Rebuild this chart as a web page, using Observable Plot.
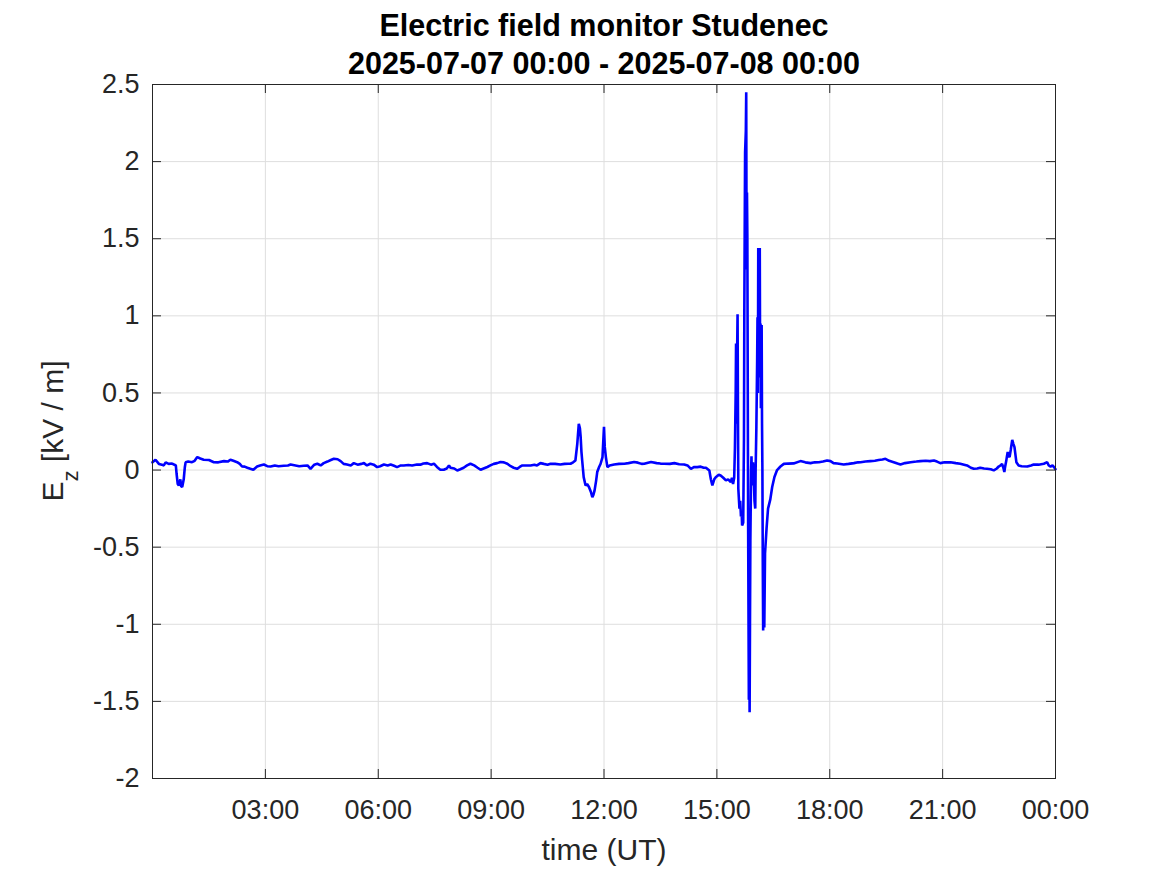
<!DOCTYPE html>
<html>
<head>
<meta charset="utf-8">
<script src="https://cdn.jsdelivr.net/npm/d3@7"></script>
<script src="https://cdn.jsdelivr.net/npm/@observablehq/plot@0.6"></script>
<style>
  body { margin: 0; background: #fff; }
  #chart { width: 1167px; height: 875px; }
</style>
</head>
<body>
<div id="chart"></div>
<script>
const titleLines = ["Electric field monitor Studenec", "2025-07-07 00:00 - 2025-07-08 00:00"];
const xLabel = "time (UT)";
const yLabelMain = "E";
const yLabelSub = "z";
const yLabelUnit = " [kV / m]";

const xTicks = [3, 6, 9, 12, 15, 18, 21, 24];
const xTickLabels = ["03:00", "06:00", "09:00", "12:00", "15:00", "18:00", "21:00", "00:00"];
const yTicks = [-2, -1.5, -1, -0.5, 0, 0.5, 1, 1.5, 2, 2.5];
const yTickLabels = ["-2", "-1.5", "-1", "-0.5", "0", "0.5", "1", "1.5", "2", "2.5"];

// time in hours (UT) since 2025-07-07 00:00
const hours = [
  0.00,0.08,0.17,0.25,0.30,0.35,0.43,0.52,0.57,0.62,0.64,0.67,0.70,0.74,0.76,0.79,0.83,0.86,0.88,0.95,
  1.05,1.12,1.19,1.27,1.36,1.50,1.63,1.75,1.90,2.00,2.07,2.15,2.25,2.32,2.38,2.45,2.52,2.60,2.68,2.78,
  2.86,2.96,3.05,3.14,3.25,3.35,3.49,3.60,3.67,3.80,3.90,4.02,4.12,4.20,4.30,4.38,4.47,4.55,4.65,4.74,
  4.82,4.92,5.00,5.08,5.17,5.27,5.35,5.45,5.55,5.62,5.70,5.79,5.88,5.97,6.05,6.15,6.25,6.33,6.42,6.50,
  6.60,6.68,6.80,6.90,7.03,7.12,7.20,7.30,7.40,7.48,7.56,7.65,7.74,7.82,7.88,7.92,8.02,8.10,8.18,8.27,
  8.36,8.45,8.55,8.64,8.72,8.80,8.90,8.98,9.07,9.16,9.25,9.34,9.43,9.52,9.60,9.69,9.76,9.83,9.92,10.05,
  10.15,10.22,10.31,10.40,10.50,10.58,10.70,10.84,10.95,11.05,11.11,11.18,11.24,11.29,11.33,11.36,11.38,11.40,11.42,11.46,
  11.51,11.55,11.60,11.65,11.69,11.72,11.75,11.79,11.82,11.87,11.91,11.96,12.00,12.02,12.05,12.09,12.15,12.27,12.40,12.54,
  12.65,12.80,12.90,13.00,13.07,13.17,13.25,13.40,13.50,13.60,13.75,13.87,14.00,14.13,14.22,14.31,14.40,14.48,14.57,14.65,
  14.71,14.80,14.84,14.88,14.93,14.97,15.05,15.10,15.17,15.24,15.30,15.37,15.40,15.43,15.46,15.48,15.50,15.51,15.52,15.53,15.55,
  15.56,15.57,15.60,15.62,15.64,15.66,15.67,15.70,15.72,15.73,15.75,15.77,15.78,15.79,15.80,15.81,15.82,15.83,15.85,15.86,15.87,15.88,
  15.89,15.91,15.92,15.93,15.95,15.96,15.98,16.00,16.02,16.03,16.05,16.07,16.08,16.09,16.10,16.11,16.12,16.13,16.14,16.15,16.16,16.17,16.18,
  16.19,16.20,16.21,16.22,16.23,16.24,16.26,16.28,16.32,16.36,16.42,16.47,16.53,16.60,16.69,16.78,16.90,17.04,17.22,17.35,17.49,
  17.60,17.71,17.82,17.93,18.02,18.10,18.20,18.37,18.50,18.64,18.75,18.82,18.95,19.08,19.20,19.30,19.40,19.48,19.58,19.70,
  19.80,19.88,20.00,20.15,20.30,20.41,20.55,20.66,20.77,20.85,20.94,21.05,21.21,21.35,21.47,21.57,21.65,21.75,21.83,21.92,
  22.00,22.10,22.18,22.28,22.36,22.44,22.49,22.54,22.58,22.62,22.64,22.66,22.69,22.71,22.73,22.76,22.78,22.81,22.85,22.88,
  22.91,22.94,22.96,23.02,23.10,23.25,23.35,23.42,23.55,23.69,23.78,23.82,23.87,23.92,23.96,24.00
];
// vertical electric field Ez (kV/m)
const ez = [
  0.050,0.067,0.040,0.035,0.030,0.050,0.040,0.042,0.036,0.030,-0.024,-0.090,-0.100,-0.060,-0.105,-0.110,-0.060,0.020,0.050,0.055,
  0.051,0.060,0.084,0.075,0.067,0.065,0.051,0.050,0.058,0.055,0.067,0.060,0.051,0.040,0.023,0.022,0.015,0.008,0.002,0.023,
  0.030,0.036,0.025,0.023,0.030,0.025,0.028,0.030,0.036,0.030,0.025,0.028,0.030,0.008,0.035,0.041,0.030,0.045,0.055,0.065,
  0.073,0.070,0.058,0.040,0.036,0.030,0.045,0.035,0.040,0.045,0.030,0.041,0.035,0.019,0.025,0.036,0.030,0.036,0.028,0.019,
  0.030,0.030,0.033,0.030,0.036,0.035,0.042,0.045,0.035,0.041,0.020,0.002,0.002,0.010,0.030,0.015,0.010,-0.003,0.005,0.015,
  0.030,0.041,0.030,0.015,0.002,0.010,0.020,0.030,0.040,0.045,0.052,0.050,0.041,0.025,0.015,0.008,0.020,0.030,0.030,0.030,
  0.035,0.030,0.045,0.040,0.035,0.041,0.040,0.036,0.040,0.041,0.041,0.050,0.062,0.170,0.300,0.270,0.213,0.120,0.062,-0.046,
  -0.100,-0.090,-0.110,-0.140,-0.176,-0.160,-0.132,-0.070,-0.013,0.020,0.041,0.084,0.280,0.150,0.084,0.019,0.030,0.036,0.040,0.041,
  0.045,0.052,0.048,0.040,0.041,0.048,0.052,0.045,0.042,0.041,0.040,0.045,0.038,0.036,0.030,0.008,0.020,0.019,0.022,0.015,
  0.015,-0.003,-0.060,-0.100,-0.060,-0.046,-0.030,-0.035,-0.050,-0.067,-0.060,-0.078,-0.050,-0.090,-0.050,0.145,0.500,0.820,0.300,0.600,1.010,
  0.400,-0.120,-0.250,-0.200,-0.300,-0.280,-0.360,-0.340,0.200,1.070,2.060,2.200,2.450,1.300,1.800,1.510,0.600,-0.300,-1.490,-0.800,-1.570,-1.000,
  -0.460,0.000,0.090,-0.100,-0.050,0.050,-0.040,-0.200,-0.250,0.000,0.280,0.700,0.990,0.500,1.440,0.700,1.440,1.200,1.440,0.600,0.950,0.400,0.850,
  0.940,0.300,0.000,-0.600,-1.040,-0.700,-1.020,-0.540,-0.380,-0.250,-0.190,-0.110,-0.045,0.000,0.023,0.040,0.042,0.043,0.058,0.050,0.045,
  0.050,0.051,0.055,0.062,0.058,0.045,0.042,0.036,0.040,0.045,0.050,0.051,0.055,0.058,0.060,0.065,0.068,0.073,0.060,0.051,
  0.042,0.036,0.045,0.051,0.055,0.058,0.060,0.058,0.062,0.055,0.045,0.050,0.051,0.045,0.041,0.035,0.030,0.015,0.008,0.010,
  0.015,0.010,0.008,0.005,-0.002,0.010,0.023,0.030,0.040,0.010,-0.013,0.020,0.058,0.090,0.117,0.090,0.084,0.130,0.196,0.170,
  0.149,0.090,0.051,0.030,0.025,0.023,0.030,0.036,0.035,0.041,0.051,0.030,0.023,0.030,0.019,0.005
];

const data = hours.map((h, i) => ({h, v: ez[i]}));

const W = 1167, H = 875;
const mL = 152, mR = 112, mT = 84, mB = 97;
const fw = W - mL - mR, fh = H - mT - mB;
const tl = 9;
const ink = "#262626";
const gridColor = "#dedede";

const plot = Plot.plot({
  width: W,
  height: H,
  marginLeft: mL,
  marginRight: mR,
  marginTop: mT,
  marginBottom: mB,
  style: {fontFamily: "'Liberation Sans', Arial, Helvetica, sans-serif", background: "#fff", color: ink},
  x: {domain: [0, 24]},
  y: {domain: [-2, 2.5]},
  marks: [
    Plot.gridX(xTicks, {stroke: gridColor, strokeOpacity: 1}),
    Plot.gridY(yTicks, {stroke: gridColor, strokeOpacity: 1}),
    Plot.line(data, {x: "h", y: "v", stroke: "#0000ff", strokeWidth: 2.6, strokeLinejoin: "miter"}),
    Plot.frame({stroke: ink, strokeWidth: 1}),
    Plot.tickX(xTicks, {x: d => d, insetTop: fh - tl, stroke: ink}),
    Plot.tickX(xTicks, {x: d => d, insetBottom: fh - tl, stroke: ink}),
    Plot.tickY(yTicks, {y: d => d, insetRight: fw - tl, stroke: ink}),
    Plot.tickY(yTicks, {y: d => d, insetLeft: fw - tl, stroke: ink}),
    Plot.axisX(xTicks, {tickSize: 0, tickPadding: 21, fontSize: 27, color: ink, label: null,
      tickFormat: d => xTickLabels[xTicks.indexOf(d)]}),
    Plot.axisY(yTicks, {tickSize: 0, tickPadding: 13, fontSize: 27, color: ink, label: null,
      tickFormat: d => yTickLabels[yTicks.indexOf(d)]}),
    Plot.text([titleLines[0]], {text: d => d, frameAnchor: "top", dy: -58.6, fontSize: 30.5, fontWeight: "bold", fill: "#000", lineAnchor: "middle"}),
    Plot.text([titleLines[1]], {text: d => d, frameAnchor: "top", dy: -20.6, fontSize: 30.5, fontWeight: "bold", fill: "#000", lineAnchor: "middle"}),
    Plot.text([xLabel], {text: d => d, frameAnchor: "bottom", dy: 71.4, fontSize: 30, fill: ink, lineAnchor: "middle"})
  ]
});

// y-axis label with subscript
const yl = d3.select(plot).append("text")
  .attr("transform", `translate(63, ${mT + fh / 2}) rotate(-90)`)
  .attr("text-anchor", "middle")
  .attr("fill", ink)
  .attr("font-size", 30)
  .attr("font-family", "'Liberation Sans', Arial, Helvetica, sans-serif");
yl.append("tspan").text(yLabelMain);
yl.append("tspan").attr("font-size", 22).attr("dy", 15).text(yLabelSub);
yl.append("tspan").attr("dy", -15).text(yLabelUnit);

document.getElementById("chart").append(plot);
</script>
</body>
</html>
